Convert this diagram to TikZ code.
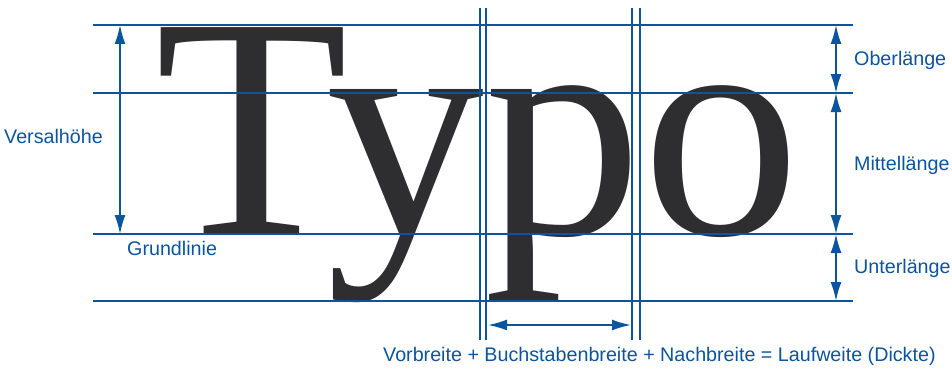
\documentclass[tikz,border=0pt]{standalone}
\usepackage{fontspec}
\setmainfont{Liberation Sans}
\newfontfamily\typofont{Liberation Serif}
\usetikzlibrary{arrows.meta, positioning}
\definecolor{guideblue}{HTML}{0A559E}
\definecolor{letterdark}{HTML}{2E2E30}

\tikzset{
  guide/.style={guideblue, line width=1.4pt},
  measure/.style={guideblue, line width=1.8pt,
    {Latex[length=19pt, width=11pt]}-{Latex[length=19pt, width=11pt]}},
  tag/.style={guideblue, inner sep=0pt, anchor=base west,
    font=\fontsize{19.7}{22}\selectfont},
}

\begin{document}
\begin{tikzpicture}[x=1pt, y=-1pt]
  \useasboundingbox (0,0) rectangle (952,369);

  % the word itself
  \node[anchor=base west, inner sep=0pt, text=letterdark,
        font=\typofont\fontsize{316}{316}\selectfont] (typo) at (155,234) {Typo};

  % horizontal guide lines
  \foreach \name/\y in {ober/25, mittel/93, grund/234, unter/301} {
    \coordinate (\name-l) at (93,\y);
    \coordinate (\name-r) at (853,\y);
    \draw[guide] (\name-l) -- (\name-r);
  }

  % vertical guide lines (double)
  \foreach \name/\x in {vorA/480, vorB/486, nachA/632, nachB/640} {
    \coordinate (\name-t) at (\x,8);
    \coordinate (\name-b) at (\x,340);
    \draw[guide] (\name-t) -- (\name-b);
  }

  % measuring points
  \coordinate (vh-t) at (120,25);   \coordinate (vh-b) at (120,234);
  \coordinate (r-1) at (836,25);    \coordinate (r-2) at (836,93);
  \coordinate (r-3) at (836,234);   \coordinate (r-4) at (836,301);
  \coordinate (lw-l) at (488,325);  \coordinate (lw-r) at (631,325);

  \draw[measure] (vh-t) -- (vh-b);
  \draw[measure] (r-1) -- (r-2);
  \draw[measure] (r-2) -- (r-3);
  \draw[measure] (r-3) -- (r-4);
  \draw[measure] (lw-l) -- (lw-r);

  % labels
  \node[tag] (versal) at (4,143) {Versalhöhe};
  \node[tag] (grundlinie) at (127,255) {Grundlinie};
  \node[tag] (oberl) at (854,65) {Oberlänge};
  \node[tag] (mittell) at (854,170) {Mittellänge};
  \node[tag] (unterl) at (854,273) {Unterlänge};
  \node[tag] (laufweite) at (383,361)
    {Vorbreite + Buchstabenbreite + Nachbreite = Laufweite (Dickte)};
\end{tikzpicture}
\end{document}
